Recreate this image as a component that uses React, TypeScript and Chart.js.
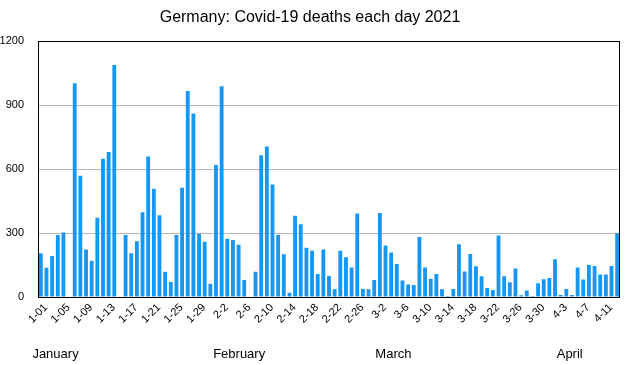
import { useEffect, useRef } from 'react';
import { Chart, registerables } from 'chart.js';

Chart.register(...registerables);

const chartTitle = 'Germany: Covid-19 deaths each day 2021';

const janDeaths = [205, 137, 192, 291, 302, 0, 1003, 569, 223, 170, 372, 648, 680, 1088, 0, 291, 205, 262, 398, 659, 508, 383, 119, 70, 291, 512, 966, 861, 297, 259, 62];
const febDeaths = [619, 989, 273, 267, 245, 80, 0, 119, 665, 706, 528, 291, 201, 20, 381, 341, 231, 217, 108, 223, 98, 36, 217, 186, 138, 392, 37, 36];
const marDeaths = [80, 394, 242, 209, 155, 77, 59, 56, 281, 138, 86, 108, 36, 5, 37, 248, 120, 202, 144, 97, 42, 33, 289, 97, 69, 134, 8, 30, 5, 64, 83];
const aprDeaths = [89, 177, 9, 37, 9, 138, 82, 150, 145, 105, 105, 145, 298];

const tickLabels = ['1-01', '1-05', '1-09', '1-13', '1-17', '1-21', '1-25', '1-29', '2-2', '2-6', '2-10', '2-14', '2-18', '2-22', '2-26', '3-2', '3-6', '3-10', '3-14', '3-18', '3-22', '3-26', '3-30', '4-3', '4-7', '4-11'];
const tickEvery = 4;

const monthNames = ['January', 'February', 'March', 'April'];
const monthLabelPos = [2.6, 35.1, 62.4, 93.6];

const yTicks = [0, 300, 600, 900, 1200];

const monthSeries = [janDeaths, febDeaths, marDeaths, aprDeaths];
const categories: string[] = [];
const values: number[] = [];
monthSeries.forEach((arr, mi) => {
  arr.forEach((v, di) => {
    categories.push(`${mi + 1}-${di + 1}`);
    values.push(v);
  });
});

const FONT = "'Liberation Sans', Arial, Helvetica, sans-serif";

export default function App() {
  const ref = useRef<HTMLCanvasElement | null>(null);

  useEffect(() => {
    if (!ref.current) return;
    const framePlugin = {
      id: 'frame',
      afterDatasetsDraw(chart: any) {
        const { ctx, chartArea } = chart;
        ctx.save();
        ctx.strokeStyle = '#000';
        ctx.lineWidth = 1;
        const l = Math.round(chartArea.left) + 0.5;
        const t = Math.round(chartArea.top) + 0.5;
        const r = Math.round(chartArea.right) - 0.5;
        const b = Math.round(chartArea.bottom) + 0.5;
        ctx.strokeRect(l, t, r - l, b - t);
        ctx.restore();
      },
      afterDraw(chart: any) {
        const { ctx } = chart;
        const xs = chart.scales.x;
        ctx.save();
        ctx.fillStyle = '#000';
        ctx.font = `13px ${FONT}`;
        ctx.textAlign = 'center';
        ctx.textBaseline = 'middle';
        monthNames.forEach((name, i) => {
          ctx.fillText(name, xs.getPixelForValue(monthLabelPos[i]), 354);
        });
        ctx.restore();
      },
    };

    const chart = new Chart(ref.current, {
      type: 'bar',
      data: {
        labels: categories,
        datasets: [
          {
            data: values,
            backgroundColor: '#1598f5',
            borderWidth: 0,
            barPercentage: 0.68,
            categoryPercentage: 1,
          },
        ],
      },
      options: {
        responsive: false,
        animation: false,
        devicePixelRatio: 1,
        layout: { padding: { left: 0, right: 20, top: 0, bottom: 0 } },
        plugins: {
          legend: { display: false },
          tooltip: { enabled: false },
          title: {
            display: true,
            text: chartTitle,
            color: '#000',
            font: { family: FONT, size: 16, weight: 'normal' },
            padding: { top: 8, bottom: 14 },
          },
        },
        scales: {
          x: {
            type: 'category',
            offset: true,
            grid: { display: false, drawTicks: false },
            border: { display: false },
            afterFit(scale: any) {
              scale.height = 68;
            },
            ticks: {
              autoSkip: false,
              minRotation: 45,
              maxRotation: 45,
              padding: 4,
              labelOffset: 5,
              color: '#000',
              font: { family: FONT, size: 11 },
              callback: (_v: any, i: number) => (i % tickEvery === 0 ? tickLabels[i / tickEvery] ?? '' : ''),
            },
          },
          y: {
            min: 0,
            max: 1200,
            afterFit(scale: any) {
              scale.width = 38;
            },
            afterBuildTicks(scale: any) {
              scale.ticks = yTicks.map((v) => ({ value: v }));
            },
            grid: {
              drawTicks: false,
              color: (c: any) => (c.tick && (c.tick.value === 0 || c.tick.value === 1200) ? 'rgba(0,0,0,0)' : '#b8b8b8'),
              lineWidth: 1,
            },
            border: { display: false },
            ticks: {
              padding: 14,
              color: '#000',
              font: { family: FONT, size: 11 },
              callback: (v: any) => String(v),
            },
          },
        },
      },
      plugins: [framePlugin],
    } as any);
    return () => chart.destroy();
  }, []);

  return (
    <div style={{ position: 'fixed', left: 0, top: 0, width: 640, height: 365, background: '#fff' }}>
      <canvas ref={ref} width={640} height={365} style={{ width: 640, height: 365, display: 'block' }} />
    </div>
  );
}
